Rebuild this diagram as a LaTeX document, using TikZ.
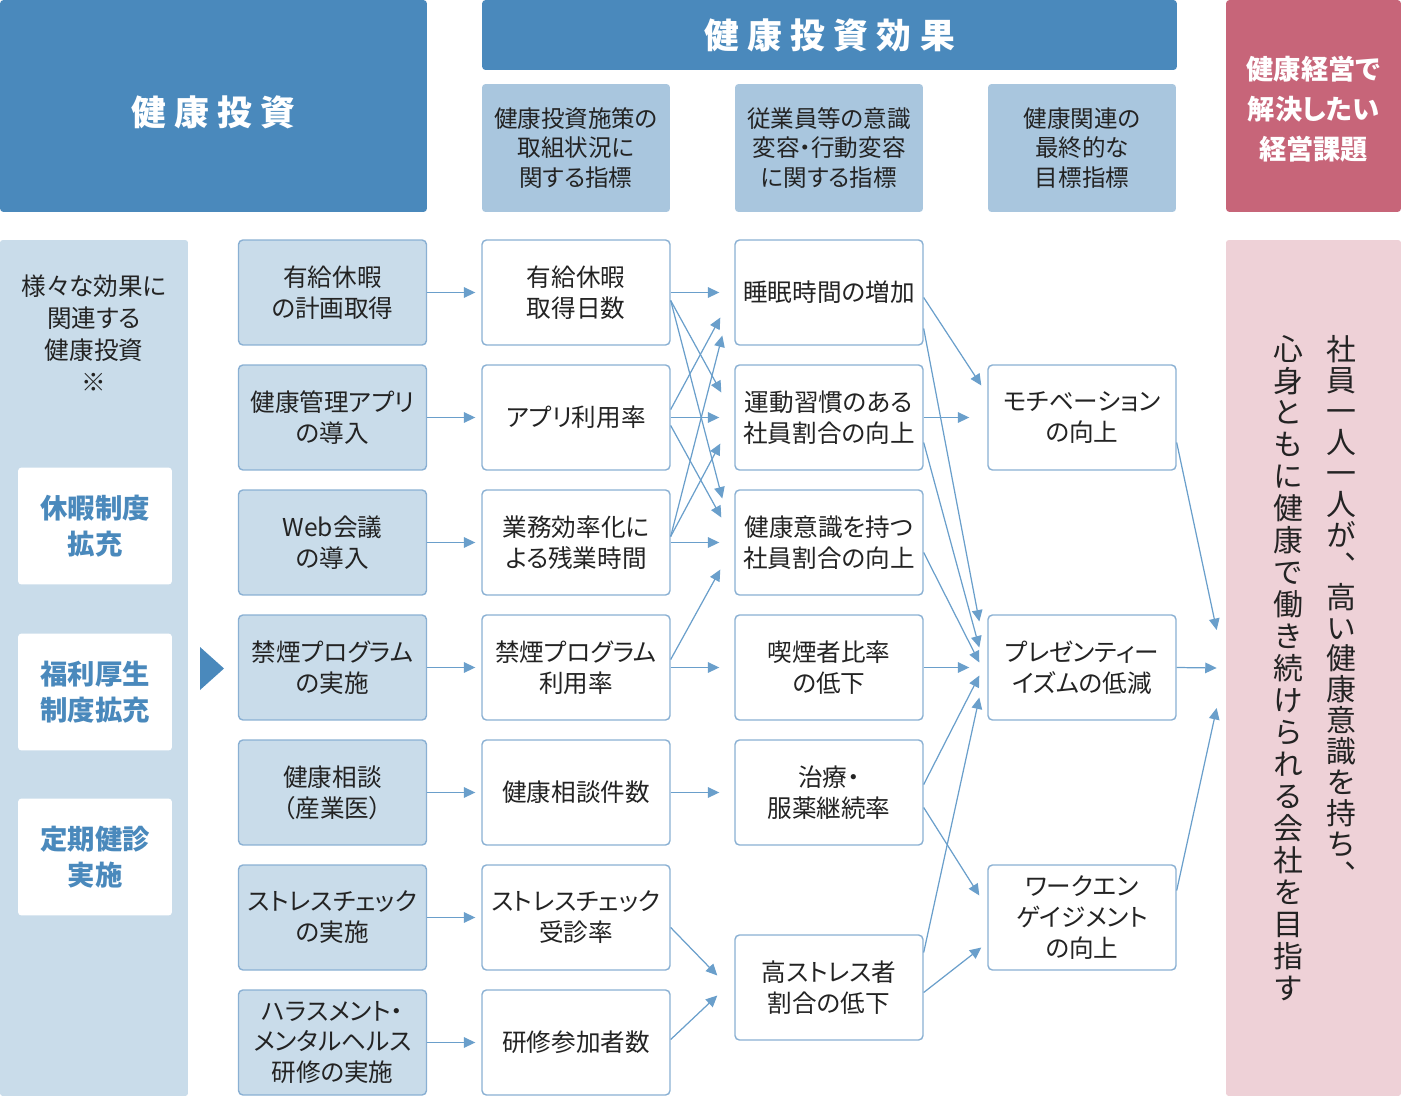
\documentclass[tikz,border=0pt]{standalone}
\usepackage{fontspec}
\setmainfont{Noto Sans CJK JP}[RawFeature=+palt]
\newfontfamily\vertfont{Noto Sans CJK JP}[RawFeature=+vert]
\usepackage{tikz}
\usetikzlibrary{arrows.meta, positioning, calc}
\definecolor{cHead}{RGB}{74,137,188}
\definecolor{cSub}{RGB}{169,198,222}
\definecolor{cFillSide}{RGB}{201,220,234}
\definecolor{cLine}{RGB}{138,176,211}
\definecolor{cArrow}{RGB}{106,159,203}
\definecolor{cText}{RGB}{35,35,35}
\definecolor{cRose}{RGB}{199,101,121}
\definecolor{cFillRose}{RGB}{238,209,215}
\newcommand{\ls}{\hspace{4.8pt}}
\newcommand{\sinktext}[2]{\raisebox{-#1}[\height][\depth]{#2}}
\tikzset{
  headbox/.style={rectangle, rounded corners=2pt, fill=cHead, text=white, inner sep=0pt,
                  font=\bfseries\fontsize{19.8pt}{24pt}\selectfont, align=center},
  subhead/.style={rectangle, rounded corners=2pt, fill=cSub, text=cText, inner sep=0pt,
                  minimum width=3.76cm, minimum height=2.56cm, align=center,
                  font=\fontsize{13.4pt}{17pt}\selectfont},
  cbox/.style={rectangle, rounded corners=2.5pt, draw=cLine, line width=0.8pt, fill=white,
               text=cText, minimum width=3.76cm, minimum height=2.1cm, inner sep=0pt,
               align=center, font=\fontsize{14pt}{17.6pt}\selectfont},
  cboxInv/.style={cbox, fill=cFillSide},
  sidetag/.style={rectangle, rounded corners=2pt, fill=white, text=cHead, inner sep=0pt,
                  minimum width=3.08cm, minimum height=2.34cm, align=center,
                  font=\bfseries\fontsize{15.6pt}{20.5pt}\selectfont},
  panel/.style={rectangle, rounded corners=1.5pt, inner sep=0pt, minimum height=17.12cm},
  vtext/.style={align=center, text=cText, inner sep=0pt},
  flow/.style={-{Triangle[length=6.5pt, width=6pt]}, draw=cArrow, line width=0.7pt},
}

\begin{document}
\begin{tikzpicture}[x=0.02cm, y=-0.02cm]
\useasboundingbox (0,0) rectangle (1401,1096);

%% ============================================================
%%  GRID (pixel units, y downwards)
%% ============================================================
\def\xA{332.5}  % investments
\def\xB{576}    % measures
\def\xC{829}    % awareness / behaviour
\def\xD{1082}   % final targets
\def\rA{292.5}
\def\rB{417.5}
\def\rC{542.5}
\def\rD{667.5}
\def\rE{792.5}
\def\rF{917.5}
\def\rG{1042.5}

%% ============================================================
%%  HEADERS
%% ============================================================
\node[headbox, minimum width=8.54cm, minimum height=4.24cm] (hInv) at (213.5,106)
  {\sinktext{0.13cm}{健\ls 康\ls 投\ls 資}};
\node[headbox, minimum width=13.9cm, minimum height=1.4cm] (hEff) at (829.5,35) {健\ls 康\ls 投\ls 資\ls 効\ls 果};
\node[subhead] (sub1) at (\xB,148) {健康投資施策の\\取組状況に\\関する指標};
\node[subhead] (sub2) at (\xC,148) {従業員等の意識\\変容・行動変容\\に関する指標};
\node[subhead] (sub3) at (\xD,148) {健康関連の\\最終的な\\目標指標};
\node[headbox, fill=cRose, minimum width=3.5cm, minimum height=4.24cm,
      font=\bfseries\fontsize{15.5pt}{22.8pt}\selectfont]
  (hGoal) at (1313.5,106) {\sinktext{0.06cm}{健康経営で}\\\sinktext{0.06cm}{解決したい}\\\sinktext{0.06cm}{経営課題}};

%% ============================================================
%%  LEFT PANEL
%% ============================================================
\node[panel, fill=cFillSide, minimum width=3.76cm] (side) at (94,668) {};
\node[font=\fontsize{14pt}{18.2pt}\selectfont, text=cText, align=center, inner sep=0pt]
  (sideTxt) at (94,333) {様々な効果に\\関連する\\健康投資\\※};
\node[sidetag] (tag1) at (95,526) {休暇制度\\拡充};
\node[sidetag] (tag2) at (95,692) {福利厚生\\制度拡充};
\node[sidetag] (tag3) at (95,857) {定期健診\\実施};
\fill[cHead] (200,647) -- (224,668.5) -- (200,690) -- cycle;

%% ============================================================
%%  RIGHT PANEL (vertical text)
%% ============================================================
\node[panel, fill=cFillRose, minimum width=3.5cm] (goal) at (1313.5,668) {};
\node[vtext, font=\vertfont\fontsize{17pt}{17.6pt}\selectfont] (goalR) at (1341,611)
  {社\\員\\一\\人\\一\\人\\が\\、\\高\\い\\健\\康\\意\\識\\を\\持\\ち\\、};
\node[vtext, font=\vertfont\fontsize{17pt}{18.2pt}\selectfont] (goalL) at (1288,668)
  {心\\身\\と\\も\\に\\健\\康\\で\\働\\き\\続\\け\\ら\\れ\\る\\会\\社\\を\\目\\指\\す};

%% ============================================================
%%  COLUMN 1 -- health investments
%% ============================================================
\node[cboxInv] (inv1) at (\xA,\rA) {有給休暇\\の計画取得};
\node[cboxInv] (inv2) at (\xA,\rB) {健康管理アプリ\\の導入};
\node[cboxInv] (inv3) at (\xA,\rC) {Web会議\\の導入};
\node[cboxInv] (inv4) at (\xA,\rD) {禁煙プログラム\\の実施};
\node[cboxInv] (inv5) at (\xA,\rE) {健康相談\\（産業医）};
\node[cboxInv] (inv6) at (\xA,\rF) {ストレスチェック\\の実施};
\node[cboxInv] (inv7) at (\xA,\rG) {ハラスメント・\\メンタルヘルス\\研修の実施};

%% ============================================================
%%  COLUMN 2 -- measures of uptake
%% ============================================================
\node[cbox] (meas1) at (\xB,\rA) {有給休暇\\取得日数};
\node[cbox] (meas2) at (\xB,\rB) {アプリ利用率};
\node[cbox] (meas3) at (\xB,\rC) {業務効率化に\\よる残業時間};
\node[cbox] (meas4) at (\xB,\rD) {禁煙プログラム\\利用率};
\node[cbox] (meas5) at (\xB,\rE) {健康相談件数};
\node[cbox] (meas6) at (\xB,\rF) {ストレスチェック\\受診率};
\node[cbox] (meas7) at (\xB,\rG) {研修参加者数};

%% ============================================================
%%  COLUMN 3 -- awareness / behaviour
%% ============================================================
\node[cbox] (eff1) at (\xC,\rA) {睡眠時間の増加};
\node[cbox] (eff2) at (\xC,\rB) {運動習慣のある\\社員割合の向上};
\node[cbox] (eff3) at (\xC,\rC) {健康意識を持つ\\社員割合の向上};
\node[cbox] (eff4) at (\xC,\rD) {喫煙者比率\\の低下};
\node[cbox] (eff5) at (\xC,\rE) {治療・\\服薬継続率};
\node[cbox] (eff6) at (\xC,987.5) {高ストレス者\\割合の低下};

%% ============================================================
%%  COLUMN 4 -- final targets
%% ============================================================
\node[cbox] (out1) at (\xD,\rB) {モチベーション\\の向上};
\node[cbox] (out2) at (\xD,\rD) {プレゼンティー\\イズムの低減};
\node[cbox] (out3) at (\xD,\rF) {ワークエン\\ゲイジメント\\の向上};

%% ============================================================
%%  CONNECTORS
%% ============================================================
%% investments -> measures
\foreach \i in {1,...,7}
  \draw[flow] (inv\i.east) -- ($(meas\i.west)+(-6,0)$);

%% measures -> awareness / behaviour
\foreach \i in {1,...,5}
  \draw[flow] (meas\i.east) -- ($(eff\i.west)+(-15,0)$);
\draw[flow] ($(meas1.east)+(0,8)$) -- ($(eff2.west)+(-13,-25)$);
\draw[flow] ($(meas1.east)+(0,8)$) -- ($(eff3.west)+(-12,-44)$);
\draw[flow] ($(meas2.east)+(0,-8)$) -- ($(eff1.west)+(-14,25)$);
\draw[flow] ($(meas2.east)+(0,8)$) -- ($(eff3.west)+(-13,-25)$);
\draw[flow] ($(meas3.east)+(0,-6)$) -- ($(eff1.west)+(-12,43)$);
\draw[flow] ($(meas3.east)+(0,-6)$) -- ($(eff2.west)+(-14,26)$);
\draw[flow] ($(meas4.east)+(0,-8)$) -- ($(eff3.west)+(-14,27)$);
\draw[flow] ($(meas6.east)+(0,10)$) -- ($(eff6.west)+(-17,-12)$);
\draw[flow] ($(meas7.east)+(0,-3)$) -- ($(eff6.west)+(-17,8)$);

%% awareness / behaviour -> final targets
\draw[flow] (eff2.east) -- ($(out1.west)+(-18,0)$);
\draw[flow] (eff4.east) -- ($(out2.west)+(-18,0)$);
\draw[flow] ($(eff1.east)+(0,5)$) -- ($(out1.west)+(-6,-32)$);
\draw[flow] ($(eff1.east)+(0,36)$) -- ($(out2.west)+(-8,-46)$);
\draw[flow] ($(eff2.east)+(0,25)$) -- ($(out2.west)+(-8,-20)$);
\draw[flow] ($(eff3.east)+(0,10)$) -- ($(out2.west)+(-8,-5)$);
\draw[flow] ($(eff5.east)+(0,-8)$) -- ($(out2.west)+(-8,8)$);
\draw[flow] ($(eff5.east)+(0,15)$) -- ($(out3.west)+(-8,-22)$);
\draw[flow] ($(eff6.east)+(0,-35)$) -- ($(out2.west)+(-8,30)$);
\draw[flow] ($(eff6.east)+(0,5)$) -- ($(out3.west)+(-6,30)$);

%% final targets -> management goal
\draw[flow] ($(out1.east)+(0,25)$) -- ($(goal.west)+(-9,-38)$);
\draw[flow] (out2.east) -- ($(goal.west)+(-9,0)$);
\draw[flow] ($(out3.east)+(0,-27)$) -- ($(goal.west)+(-9,40)$);

\end{tikzpicture}
\end{document}
